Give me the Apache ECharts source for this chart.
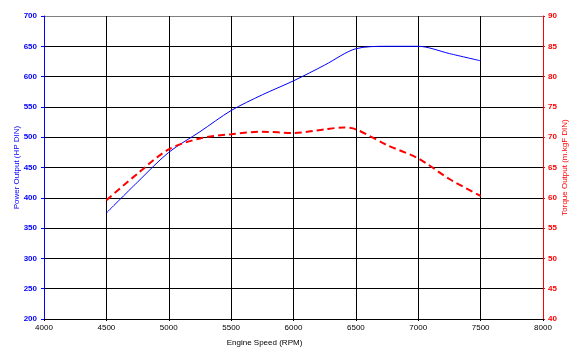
<!DOCTYPE html>
<html>
<head>
<meta charset="utf-8">
<script src="https://cdn.jsdelivr.net/npm/echarts@6/dist/echarts.min.js"></script>
<style>html,body{margin:0;padding:0;background:#fff}#c{width:583px;height:361px}</style>
</head>
<body>
<div id="c"></div>
<script>
const rpm = [4500, 4750, 5000, 5250, 5500, 5750, 6000, 6250, 6500, 6750, 7000, 7250, 7500];
const powerHP = [375, 426, 475, 509, 544, 570, 593, 619, 646, 650, 650, 638, 626];
const torqueRpm = [4500, 4750, 5000, 5250, 5500, 5750, 6000, 6250, 6400, 6500, 6750, 7000, 7250, 7500];
const torqueKgm = [59.6, 64.0, 68.0, 69.8, 70.5, 70.9, 70.7, 71.3, 71.6, 71.3, 68.7, 66.5, 63.1, 60.3];
const xTitle = 'Engine Speed (RPM)';
const yLeftTitle = 'Power Output (HP DIN)';
const yRightTitle = 'Torque Output (m.kgF DIN)';

const font = 'Liberation Sans, Arial, sans-serif';
const splitColors = [];
for (let i = 0; i < 10; i++) splitColors.push('#000');
splitColors.push('#808080');

const chart = echarts.init(document.getElementById('c'), null, {renderer: 'canvas'});
chart.setOption({
  backgroundColor: '#fff',
  animation: false,
  grid: {left: 44, right: 40, top: 16, bottom: 42},
  xAxis: {
    type: 'value', min: 4000, max: 8000, interval: 500,
    name: xTitle, nameLocation: 'middle', nameGap: 20, nameMoveOverlap: false,
    nameTextStyle: {color: '#000', fontSize: 8, fontFamily: font, padding: [0, 58, 0, 0]},
    axisLine: {lineStyle: {color: '#000', width: 1}},
    axisTick: {show: true, length: 2, lineStyle: {color: '#000'}},
    axisLabel: {color: '#000', fontSize: 8, fontFamily: font, margin: 5, formatter: v => String(v)},
    splitLine: {show: true, lineStyle: {color: '#000', width: 1}}
  },
  yAxis: [
    {
      type: 'value', min: 200, max: 700, interval: 50, position: 'left',
      name: yLeftTitle, nameLocation: 'middle', nameGap: 23, nameRotate: 90, nameMoveOverlap: false,
      nameTextStyle: {color: '#0000ff', fontSize: 8, fontFamily: font},
      axisLine: {show: true, lineStyle: {color: '#0000ff', width: 1}},
      axisTick: {show: true, length: 3, lineStyle: {color: '#0000ff'}},
      axisLabel: {color: '#0000ff', fontSize: 8, fontWeight: 'bold', fontFamily: font, margin: 7},
      splitLine: {show: true, lineStyle: {color: splitColors, width: 1}}
    },
    {
      type: 'value', min: 40, max: 90, interval: 5, position: 'right',
      name: yRightTitle, nameLocation: 'middle', nameGap: 18, nameRotate: 90, nameMoveOverlap: false,
      nameTextStyle: {color: '#ff0000', fontSize: 8, fontFamily: font},
      axisLine: {show: true, lineStyle: {color: '#ff0000', width: 1}},
      axisTick: {show: true, length: 2, lineStyle: {color: '#ff0000'}},
      axisLabel: {color: '#ff0000', fontSize: 8, fontWeight: 'bold', fontFamily: font, margin: 5},
      splitLine: {show: false}
    }
  ],
  series: [
    {
      type: 'line', yAxisIndex: 0, smooth: 0.3, symbol: 'none',
      data: rpm.map((r, i) => [r, powerHP[i]]),
      lineStyle: {color: '#0000ff', width: 1}
    },
    {
      type: 'line', yAxisIndex: 1, smooth: 0.3, symbol: 'none',
      data: torqueRpm.map((r, i) => [r, torqueKgm[i]]),
      lineStyle: {color: '#ff0000', width: 2, type: [7, 4]}
    }
  ]
});
</script>
</body>
</html>
